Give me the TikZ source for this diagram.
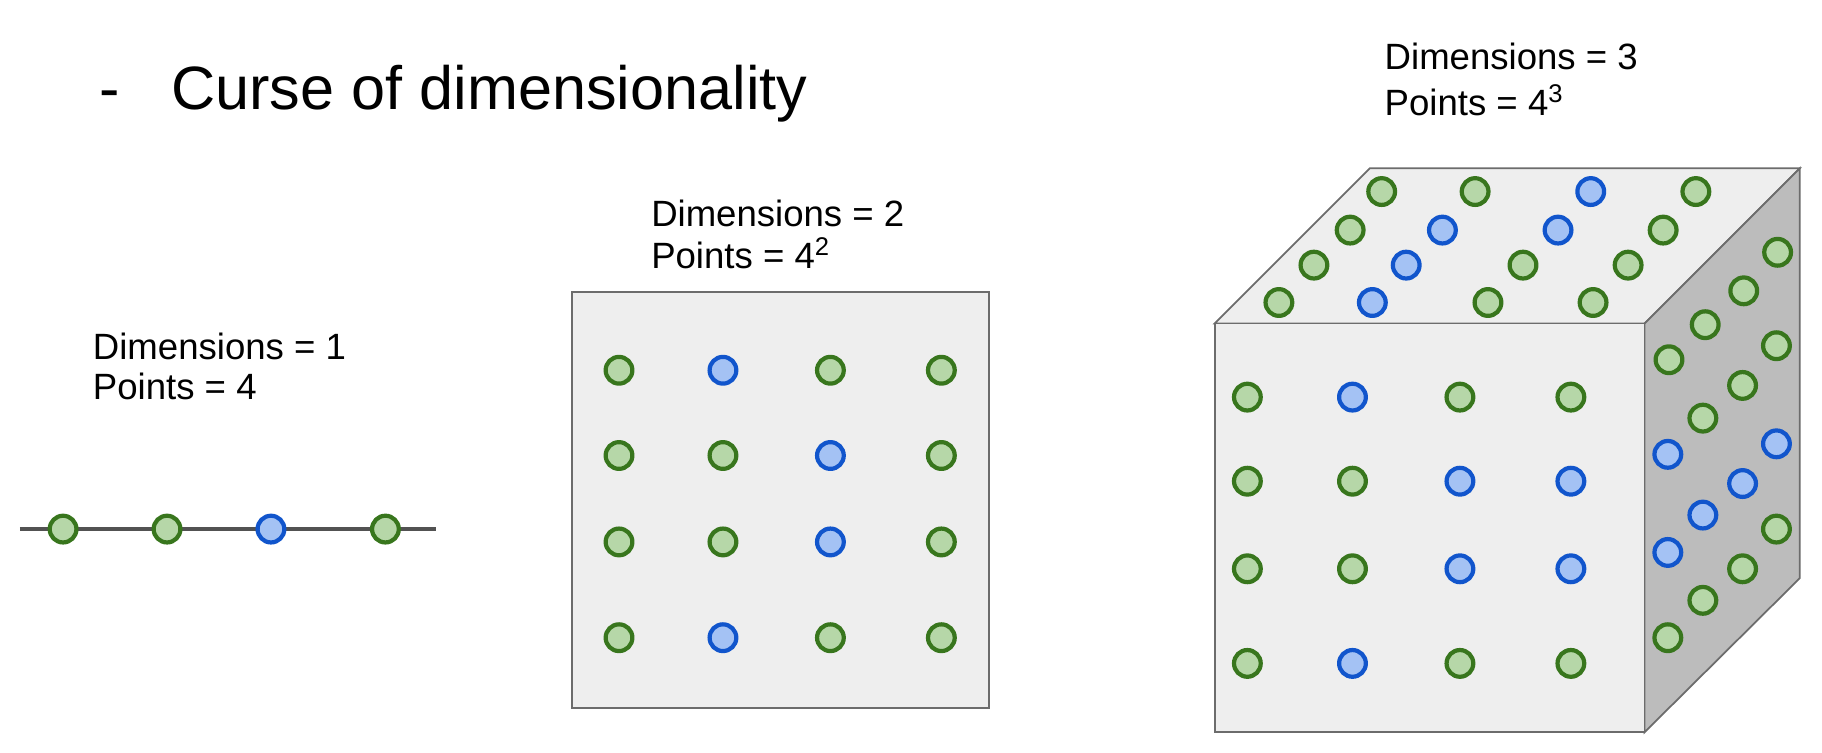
\documentclass[tikz,border=0pt]{standalone}
\usepackage{fontspec}
\setmainfont{Liberation Sans}
\definecolor{gfill}{HTML}{B6D7A8}
\definecolor{gline}{HTML}{38761D}
\definecolor{bfill}{HTML}{A4C2F4}
\definecolor{bline}{HTML}{1155CC}
\definecolor{face}{HTML}{EEEEEE}
\definecolor{side}{HTML}{BCBCBC}
\tikzset{
  gdot/.style={circle, fill=gfill, draw=gline, line width=1.2pt, minimum size=7.6pt, inner sep=0pt},
  bdot/.style={circle, fill=bfill, draw=bline, line width=1.2pt, minimum size=7.6pt, inner sep=0pt},
  lbl/.style={anchor=west, font=\fontsize{10.4}{12}\selectfont, inner sep=0pt},
  wall/.style={draw=gray!85!black, line width=0.5pt}
}
\begin{document}
\begin{tikzpicture}[x=0.01168cm, y=-0.01168cm]
    \useasboundingbox (0,0) rectangle (1560,644);
    % title
    \node[anchor=west, inner sep=0pt, font=\fontsize{17.4}{20}\selectfont] (title) at (85,80) {-\hspace{14.5pt}Curse of dimensionality};

    % d = 1
    \node[lbl] (lab1a) at (79,297) {Dimensions = 1};
    \node[lbl] (lab1b) at (79,331) {Points = 4};
    \coordinate (lineL) at (17,453);
    \coordinate (lineR) at (373,453);
    \draw[gray!30!black!80, line width=1.3pt] (lineL) -- (lineR);
    \foreach \x/\s [count=\i] in {54/gdot,143/gdot,232/bdot,330/gdot} {
        \node[\s] (a\i) at (\x,453) {};
    }

    % d = 2
    \node[lbl] (lab2a) at (557,183) {Dimensions = 2};
    \node[lbl] (lab2b) at (557,217) {Points = 4\textsuperscript{2}};
    \draw[wall, fill=face] (490,250) rectangle (847,606);
    \foreach \y/\sa/\sb/\sc/\sd [count=\j] in {317/gdot/bdot/gdot/gdot, 390/gdot/gdot/bdot/gdot, 464/gdot/gdot/bdot/gdot, 546/gdot/bdot/gdot/gdot} {
        \node[\sa] (b\j-1) at (530,\y) {};
        \node[\sb] (b\j-2) at (619,\y) {};
        \node[\sc] (b\j-3) at (711,\y) {};
        \node[\sd] (b\j-4) at (806,\y) {};
    }

    % d = 3
    \node[lbl] (lab3a) at (1185,48) {Dimensions = 3};
    \node[lbl] (lab3b) at (1185,86) {Points = 4\textsuperscript{3}};
    \draw[wall, fill=face] (1040,277) -- (1173,144) -- (1541,144) -- (1408,277) -- cycle;
    \draw[wall, fill=side] (1408,277) -- (1541,144) -- (1541,495) -- (1408,627) -- cycle;
    \draw[wall, fill=face] (1040,277) rectangle (1408,627);
    % front face
    \foreach \y/\sa/\sb/\sc/\sd [count=\j] in {340/gdot/bdot/gdot/gdot, 412/gdot/gdot/bdot/bdot, 487/gdot/gdot/bdot/bdot, 568/gdot/bdot/gdot/gdot} {
        \node[\sa] (f\j-1) at (1068,\y) {};
        \node[\sb] (f\j-2) at (1158,\y) {};
        \node[\sc] (f\j-3) at (1250,\y) {};
        \node[\sd] (f\j-4) at (1345,\y) {};
    }
    % top face
    \foreach \x/\y/\s [count=\k] in {1183/164/gdot, 1263/164/gdot, 1362/164/bdot, 1452/164/gdot,
        1156/197/gdot, 1235/197/bdot, 1334/197/bdot, 1424/197/gdot,
        1125/227/gdot, 1204/227/bdot, 1304/227/gdot, 1394/227/gdot,
        1095/259/gdot, 1175/259/bdot, 1274/259/gdot, 1364/259/gdot} {
        \node[\s] (t\k) at (\x,\y) {};
    }
    % side face
    \foreach \x/\y/\s [count=\k] in {1522/216/gdot, 1493/249/gdot, 1460/278/gdot, 1429/308/gdot,
        1521/296/gdot, 1492/330/gdot, 1458/358/gdot, 1428/389/bdot,
        1521/380/bdot, 1492/414/bdot, 1458/441/bdot, 1428/473/bdot,
        1521/453/gdot, 1492/487/gdot, 1458/514/gdot, 1428/546/gdot} {
        \node[\s] (s\k) at (\x,\y) {};
    }
\end{tikzpicture}
\end{document}
